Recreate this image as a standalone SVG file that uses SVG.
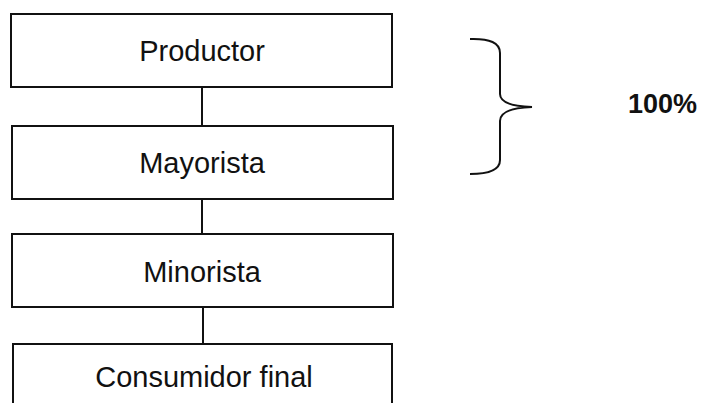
<svg xmlns="http://www.w3.org/2000/svg" width="703" height="403" viewBox="0 0 703 403">
<style>
.box{fill:#fff;stroke:#111;stroke-width:2}
.lbl{font-family:"Liberation Sans",Arial,sans-serif;font-size:29px;fill:#111;text-anchor:middle}
.con{stroke:#111;stroke-width:2;fill:none}
.pct{font-family:"Liberation Sans",Arial,sans-serif;font-size:27px;font-weight:bold;fill:#111}
</style>
<rect width="703" height="403" fill="#fff"/>
<g id="connectors">
<line class="con" x1="202" y1="87" x2="202" y2="126"/>
<line class="con" x1="202" y1="199" x2="202" y2="234"/>
<line class="con" x1="203" y1="307" x2="203" y2="344"/>
</g>
<g id="productor"><rect class="box" x="11" y="14" width="381" height="73"/><text class="lbl" x="202" y="61">Productor</text></g>
<g id="mayorista"><rect class="box" x="12" y="126" width="381" height="73"/><text class="lbl" x="202" y="173">Mayorista</text></g>
<g id="minorista"><rect class="box" x="12" y="234" width="381" height="73"/><text class="lbl" x="202" y="282">Minorista</text></g>
<g id="consumidor"><rect class="box" x="13" y="344" width="379" height="70"/><text class="lbl" x="204" y="387">Consumidor final</text></g>
<g id="brace">
<path class="con" d="M470,39 Q500,38 500,53 V94 Q500,106 532,107 Q500,108 500,121 V160 Q500,174 470,174"/>
<text class="pct" x="628" y="113">100%</text>
</g>
</svg>
